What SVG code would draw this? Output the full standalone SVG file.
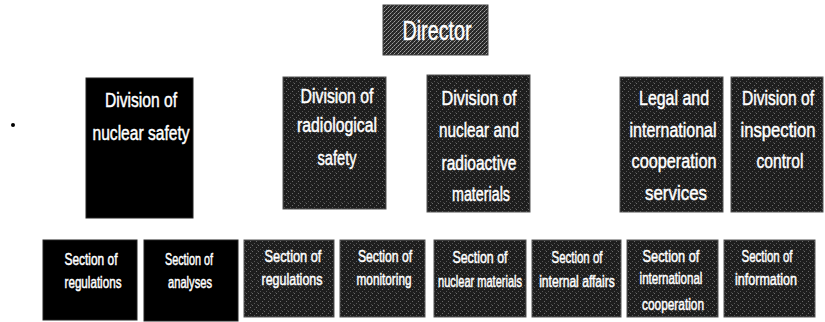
<svg xmlns="http://www.w3.org/2000/svg" width="825" height="322" viewBox="0 0 825 322">
<defs>
<pattern id="ht" width="6" height="6" patternUnits="userSpaceOnUse">
<rect width="6" height="6" fill="#1e1e1e"/>
<rect x="0" y="5" width="1" height="1" fill="#6a6a6a"/>
<rect x="2" y="3" width="1" height="1" fill="#555"/>
<rect x="4" y="1" width="1" height="1" fill="#6a6a6a"/>
<rect x="5" y="4" width="1" height="1" fill="#444"/>
</pattern>
<pattern id="htl" width="4" height="4" patternUnits="userSpaceOnUse">
<rect width="4" height="4" fill="#2a2a2a"/>
<rect x="0" y="3" width="1" height="1" fill="#a0a0a0"/>
<rect x="1" y="2" width="1" height="1" fill="#777"/>
<rect x="2" y="1" width="1" height="1" fill="#a0a0a0"/>
<rect x="3" y="0" width="1" height="1" fill="#777"/>
</pattern>
</defs>
<style>
.blk{fill:#000;stroke:#222;stroke-width:1}
.gry{fill:url(#ht);stroke:#555;stroke-width:1}
.dir{fill:url(#htl);stroke:#444;stroke-width:1}
text{font-family:"Liberation Sans",Arial,sans-serif;fill:#fff;stroke:#fff;stroke-width:0.5;text-anchor:middle}
.d{font-size:21px}
.s{font-size:16px}
.t{font-size:28px}
</style>
<rect width="825" height="322" fill="#fff"/>
<circle cx="13" cy="125" r="2" fill="#000"/>

<g id="director">
<rect class="dir" x="383" y="5" width="105" height="50"/>
<text class="t" transform="translate(437 40) scale(0.704 1)">Director</text>
</g>

<g id="div-nuclear-safety">
<rect class="blk" x="86" y="78" width="107" height="140"/>
<text class="d" transform="translate(141 107) scale(0.743 1)">Division of</text>
<text class="d" transform="translate(141 140) scale(0.742 1)">nuclear safety</text>
</g>

<g id="div-radiological">
<rect class="gry" x="283" y="77" width="103" height="132"/>
<text class="d" transform="translate(337 103) scale(0.753 1)">Division of</text>
<text class="d" transform="translate(337 132) scale(0.753 1)">radiological</text>
<text class="d" transform="translate(337 165) scale(0.696 1)">safety</text>
</g>

<g id="div-materials">
<rect class="gry" x="427" y="75" width="103" height="137"/>
<text class="d" transform="translate(479 105) scale(0.774 1)">Division of</text>
<text class="d" transform="translate(479 137) scale(0.729 1)">nuclear and</text>
<text class="d" transform="translate(479 170) scale(0.739 1)">radioactive</text>
<text class="d" transform="translate(481 201) scale(0.681 1)">materials</text>
</g>

<g id="legal">
<rect class="gry" x="620" y="77" width="103" height="135"/>
<text class="d" transform="translate(674 105) scale(0.759 1)">Legal and</text>
<text class="d" transform="translate(673 137) scale(0.76 1)">international</text>
<text class="d" transform="translate(674 168) scale(0.775 1)">cooperation</text>
<text class="d" transform="translate(676 200) scale(0.805 1)">services</text>
</g>

<g id="div-inspection">
<rect class="gry" x="731" y="77" width="92" height="135"/>
<text class="d" transform="translate(778 105) scale(0.743 1)">Division of</text>
<text class="d" transform="translate(778 137) scale(0.794 1)">inspection</text>
<text class="d" transform="translate(780 168) scale(0.746 1)">control</text>
</g>

<g id="sec-regulations-1">
<rect class="blk" x="43" y="240" width="94" height="80"/>
<text class="s" transform="translate(91 265) scale(0.745 1)">Section of</text>
<text class="s" transform="translate(93 288) scale(0.728 1)">regulations</text>
</g>

<g id="sec-analyses">
<rect class="blk" x="144" y="240" width="94" height="81"/>
<text class="s" transform="translate(189 265) scale(0.675 1)">Section of</text>
<text class="s" transform="translate(190 288) scale(0.697 1)">analyses</text>
</g>

<g id="sec-regulations-2">
<rect class="gry" x="244" y="240" width="90" height="77"/>
<text class="s" transform="translate(293 262) scale(0.8 1)">Section of</text>
<text class="s" transform="translate(292 285) scale(0.779 1)">regulations</text>
</g>

<g id="sec-monitoring">
<rect class="gry" x="340" y="240" width="85" height="77"/>
<text class="s" transform="translate(385 262) scale(0.76 1)">Section of</text>
<text class="s" transform="translate(384 285) scale(0.736 1)">monitoring</text>
</g>

<g id="sec-nuclear-materials">
<rect class="gry" x="434" y="240" width="92" height="77"/>
<text class="s" transform="translate(480 263) scale(0.774 1)">Section of</text>
<text class="s" transform="translate(480 287) scale(0.69 1)">nuclear materials</text>
</g>

<g id="sec-internal-affairs">
<rect class="gry" x="532" y="240" width="89" height="77"/>
<text class="s" transform="translate(577 263) scale(0.717 1)">Section of</text>
<text class="s" transform="translate(577 287) scale(0.756 1)">internal affairs</text>
</g>

<g id="sec-international">
<rect class="gry" x="627" y="240" width="91" height="77"/>
<text class="s" transform="translate(671 262) scale(0.8 1)">Section of</text>
<text class="s" transform="translate(671 284) scale(0.722 1)">international</text>
<text class="s" transform="translate(673 310) scale(0.742 1)">cooperation</text>
</g>

<g id="sec-information">
<rect class="gry" x="724" y="240" width="91" height="77"/>
<text class="s" transform="translate(767 262) scale(0.717 1)">Section of</text>
<text class="s" transform="translate(766 285) scale(0.784 1)">information</text>
</g>
</svg>
